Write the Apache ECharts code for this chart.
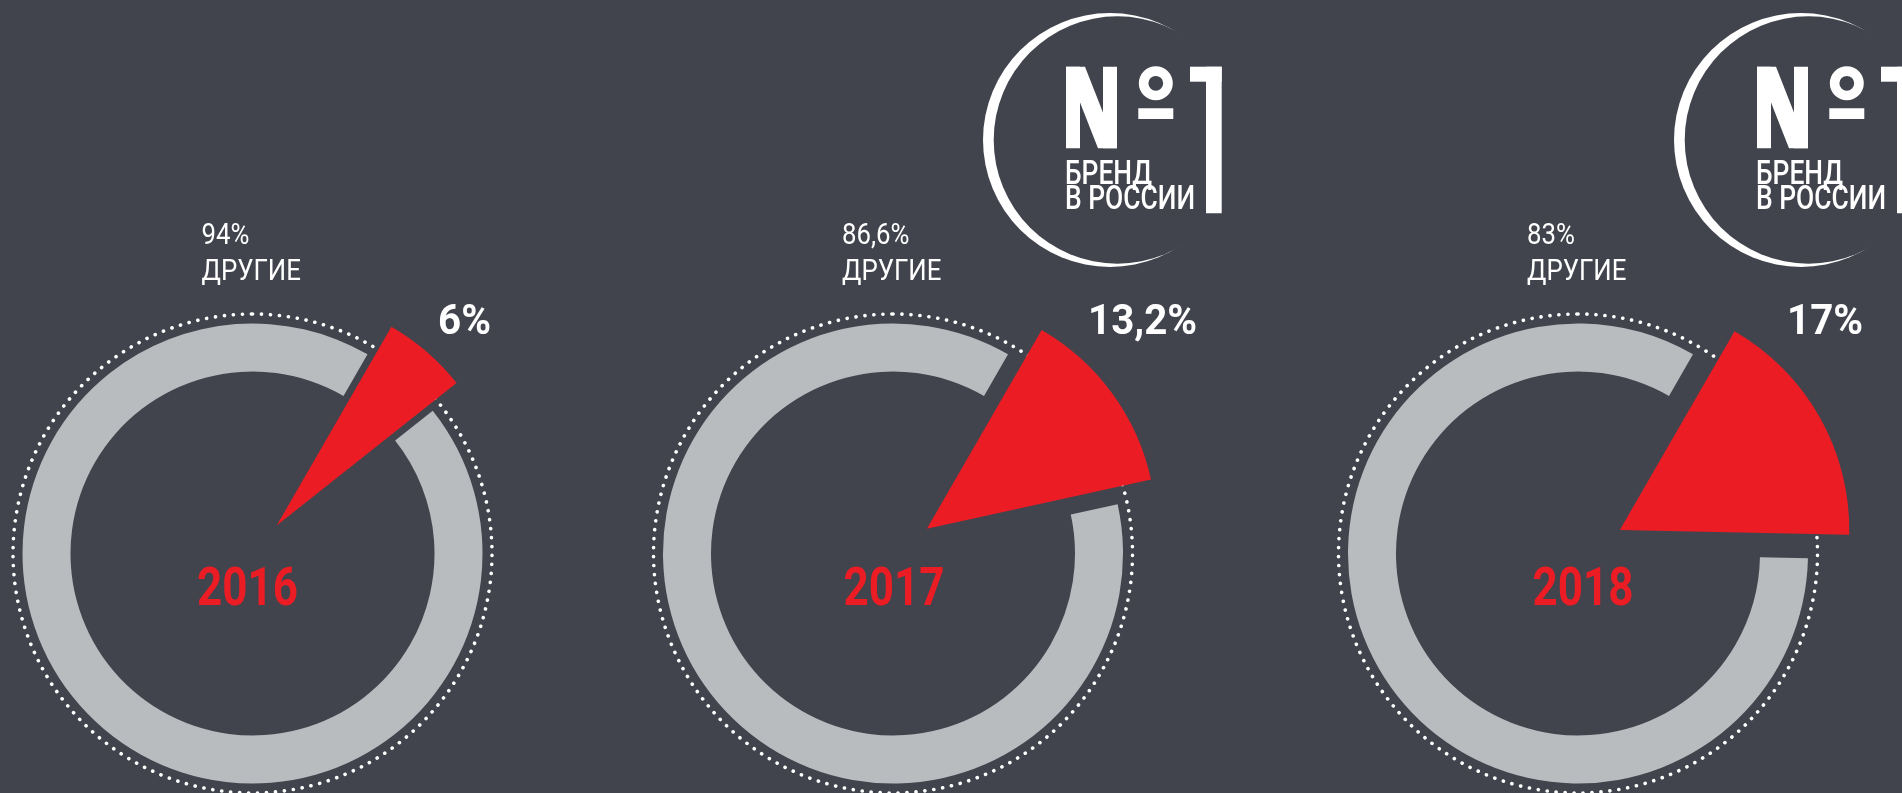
<!DOCTYPE html>
<html>
<head>
  <meta charset="utf-8">
  <script src="https://cdn.jsdelivr.net/npm/echarts@6/dist/echarts.min.js"></script>
  <style>
    body { margin: 0; padding: 0; background: #41444d; }
    #chart { width: 1902px; height: 793px; }
  </style>
</head>
<body>
  <div id="chart"></div>
  <script>
    // данные: доля бренда и остальных по годам
    const years = ['2016', '2017', '2018'];
    const brandShare = [6, 13.2, 17];
    const otherShare = [94, 86.6, 83];
    const otherName = 'ДРУГИЕ';
    const logoLines = ['БРЕНД', 'В РОССИИ'];

    // раскладка
    const BG = '#41444d';
    const GRAY = '#b9bcbf';
    const RED = '#ec1c24';
    const centersX = [252.5, 893, 1578];
    const centerY = 553.5;
    const explode = [37, 42, 48];
    const brandLabelX = [438, 1088, 1787];
    const yearDx = [-5, 1, 5];
    const logoX = [null, 1066, 1757];
    const FONT = 'Roboto, "Liberation Sans", sans-serif';

    const fmt = v => String(v).replace('.', ',') + '%';

    const series = [];
    const graphics = [];

    function text(x, y, str, font, opts) {
      opts = opts || {};
      const align = opts.align || 'left';
      graphics.push({
        type: 'text', x: x, y: y, scaleX: opts.scaleX || 1, silent: true, z: 10,
        style: {
          text: str, font: font, fill: opts.fill || '#fff',
          align: align, textAlign: align,
          verticalAlign: 'middle', textVerticalAlign: 'middle'
        }
      });
    }

    function logo(lx) {
      const ty = 66.7;
      const els = [
        { type: 'circle', shape: { cx: lx + 44, cy: 140, r: 127 }, style: { fill: '#fff' } },
        { type: 'circle', shape: { cx: lx + 51.4, cy: 140, r: 123.7 }, style: { fill: BG } },
        // N
        { type: 'rect', shape: { x: lx, y: ty, width: 14, height: 81.6 }, style: { fill: '#fff' } },
        { type: 'rect', shape: { x: lx + 37, y: ty, width: 14, height: 81.6 }, style: { fill: '#fff' } },
        { type: 'polygon', shape: { points: [[lx, ty], [lx + 19, ty], [lx + 51, ty + 81.6], [lx + 32, ty + 81.6]] }, style: { fill: '#fff' } },
        // o и черта
        { type: 'ring', shape: { cx: lx + 89.8, cy: 83.3, r: 17, r0: 7.4 }, style: { fill: '#fff' } },
        { type: 'rect', shape: { x: lx + 72.3, y: 108.3, width: 35, height: 10.7 }, style: { fill: '#fff' } },
        // 1
        { type: 'rect', shape: { x: lx + 124, y: ty, width: 31.7, height: 15 }, style: { fill: '#fff' } },
        { type: 'rect', shape: { x: lx + 140, y: ty, width: 15.7, height: 146.6 }, style: { fill: '#fff' } }
      ];
      els.forEach(e => { e.silent = true; e.z = 5; graphics.push(e); });
      text(lx - 1, 175.5, logoLines[0], '500 33px ' + FONT, { scaleX: 0.8 });
      text(lx - 1, 201, logoLines[1], '500 33px ' + FONT, { scaleX: 0.8 });
    }

    years.forEach((year, i) => {
      const center = [centersX[i], centerY];
      // пунктирная окружность
      series.push({
        type: 'pie', silent: true, center: center, radius: [0, 239.5],
        label: { show: false }, labelLine: { show: false },
        itemStyle: {
          color: 'transparent', borderColor: '#fff', borderWidth: 3.6,
          borderType: [0.1, 8.9], borderCap: 'round'
        },
        data: [{ value: 1, name: 'ring' }]
      });
      // серое кольцо — «другие»
      series.push({
        type: 'pie', silent: true, center: center, radius: [182, 230],
        startAngle: 60, clockwise: true,
        label: { show: false }, labelLine: { show: false },
        itemStyle: { borderWidth: 0 },
        data: [
          { value: brandShare[i], name: 'brand', itemStyle: { color: 'transparent' } },
          { value: otherShare[i], name: otherName, itemStyle: { color: GRAY } }
        ]
      });
      // красный сектор — бренд
      series.push({
        type: 'pie', silent: true, center: center, radius: [0, 229.5],
        startAngle: 60, clockwise: true,
        selectedMode: 'single', selectedOffset: explode[i],
        label: { show: false }, labelLine: { show: false },
        itemStyle: { borderWidth: 0 },
        select: { itemStyle: { color: RED, borderWidth: 0 } },
        data: [
          { value: brandShare[i], name: 'brand', selected: true, itemStyle: { color: RED } },
          { value: otherShare[i], name: otherName, itemStyle: { color: 'transparent' } }
        ]
      });

      text(centersX[i] - 51, 236.7, fmt(otherShare[i]), '400 30px ' + FONT, { scaleX: 0.86 });
      text(centersX[i] - 51, 272.5, otherName, '400 30px ' + FONT, { scaleX: 0.86 });
      text(brandLabelX[i], 323.3, fmt(brandShare[i]), 'bold 42px ' + FONT, { scaleX: 0.96 });
      text(centersX[i] + yearDx[i], 592, year, 'bold 53px ' + FONT, { scaleX: 0.83, align: 'center', fill: RED });

      if (logoX[i] !== null) logo(logoX[i]);
    });

    const chart = echarts.init(document.getElementById('chart'));
    chart.setOption({
      backgroundColor: BG,
      animation: false,
      series: series,
      graphic: { elements: graphics }
    });
  </script>
</body>
</html>
